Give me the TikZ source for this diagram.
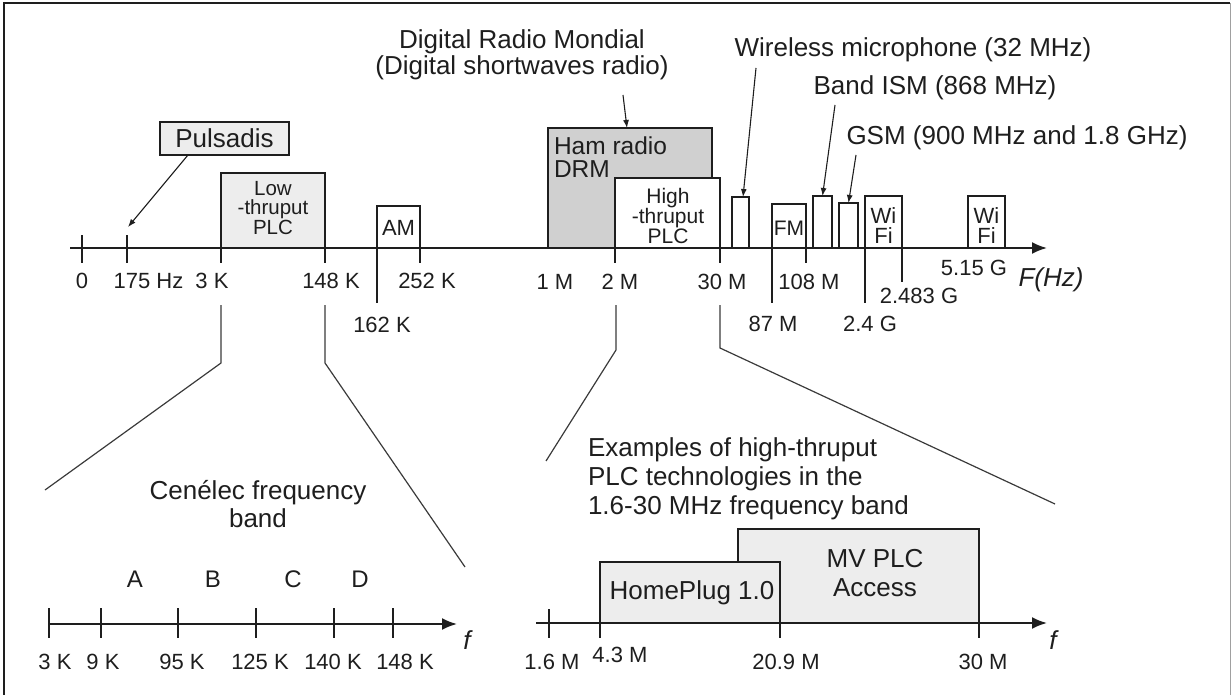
\documentclass[tikz,border=0pt]{standalone}
\usepackage{fontspec}
\setmainfont{Liberation Sans}
\usetikzlibrary{arrows.meta}
\definecolor{lightfill}{HTML}{EDEDED}
\definecolor{darkfill}{HTML}{D0D0D0}
\definecolor{ink}{HTML}{1E1E1E}
\definecolor{zoomcol}{HTML}{3A3A3A}
\definecolor{framegray}{HTML}{A0A0A0}
\newcommand\fxbig{\fontsize{26}{26}\selectfont}
\newcommand\fxlab{\fontsize{22}{22}\selectfont}
\begin{document}
\begin{tikzpicture}[x=1pt,y=-1pt,
  every node/.style={text=ink, inner sep=0pt, outer sep=0pt},
  bandbox/.style={draw=ink, line width=1.3pt, anchor=south west, inner sep=0pt, outer sep=0pt},
  ext/.style={draw=ink, line width=1.3pt},
  tickmark/.style={draw=ink, line width=1.3pt},
  axisline/.style={draw=ink, line width=2pt, -{Latex[length=15pt,width=12pt]}},
  pointer/.style={draw=ink, line width=1.1pt, -{Latex[length=8pt,width=6pt]}},
  zoomline/.style={draw=zoomcol, line width=1.2pt},
  lab/.style={font=\fxlab},
  big/.style={font=\fxbig},
]
\useasboundingbox (0,0) rectangle (1231,695);
% frame
\draw[ink, line width=2pt] (4,695) -- (4,3) -- (1230,3);
\draw[framegray, line width=1pt] (1230,3) -- (1230,695);

% ---------- main band boxes ----------
\node[bandbox, fill=lightfill, minimum width=104pt, minimum height=75pt] (lowplc) at (221,248) {};
\node[bandbox, minimum width=43pt, minimum height=42pt] (am) at (377,248) {};
\node[bandbox, fill=darkfill, minimum width=164pt, minimum height=120pt] (ham) at (548,248) {};
\node[bandbox, fill=white, minimum width=105pt, minimum height=70pt] (highplc) at (615,248) {};
\node[bandbox, minimum width=17pt, minimum height=51pt] (wm) at (732,248) {};
\node[bandbox, minimum width=34pt, minimum height=44pt] (fm) at (772,248) {};
\node[bandbox, minimum width=19pt, minimum height=52pt] (ism) at (813,248) {};
\node[bandbox, minimum width=19pt, minimum height=45pt] (gsm) at (839,248) {};
\node[bandbox, minimum width=37pt, minimum height=52pt] (wifia) at (865,248) {};
\node[bandbox, minimum width=37pt, minimum height=52pt] (wifib) at (968,248) {};

% box texts
\node[font=\fontsize{20.5}{19.5}\selectfont, align=center] (lowtxt) at (273,208) {Low\\-thruput\\PLC};
\node[lab] (amtxt) at (398.5,228) {AM};
\node[font=\fontsize{24.5}{23}\selectfont, align=left, anchor=west] (hamtxt) at (554,157) {Ham radio\\DRM};
\node[font=\fontsize{21}{20}\selectfont, align=center] (hightxt) at (668,216) {High\\-thruput\\PLC};
\node[font=\fontsize{21}{21}\selectfont] (fmtxt) at (789,228) {FM};
\node[font=\fontsize{22}{20}\selectfont, align=center] (wifiatxt) at (883.5,226) {Wi\\Fi};
\node[font=\fontsize{22}{20}\selectfont, align=center] (wifibtxt) at (986.5,226) {Wi\\Fi};

% main axis
\coordinate (axstart) at (70,248);
\coordinate (axend) at (1047,248);
\draw[axisline] (axstart) -- (axend);

% ticks and extensions
\coordinate (t0) at (82,235);
\coordinate (t175) at (127,235);
\draw[tickmark] (t0) -- ++(0,28);
\draw[tickmark] (t175) -- ++(0,28);
\draw[ext] (lowplc.south west) -- ++(0,15);
\draw[ext] (lowplc.south east) -- ++(0,15);
\draw[ext] (am.south west) -- ++(0,55);
\draw[ext] (am.south east) -- ++(0,15);
\draw[ext] (highplc.south west) -- ++(0,15);
\draw[ext] (highplc.south east) -- ++(0,15);
\draw[ext] (fm.south west) -- ++(0,55);
\draw[ext] (fm.south east) -- ++(0,15);
\draw[ext] (wifia.south west) -- ++(0,55);
\draw[ext] (wifia.south east) -- ++(0,34);

% main axis labels
\node[lab] (l0) at (82,281) {0};
\node[lab] (l175) at (148.5,281) {175 Hz};
\node[lab] (l3k) at (212,281) {3 K};
\node[lab] (l148k) at (331,281) {148 K};
\node[lab] (l252k) at (427,281) {252 K};
\node[lab] (l162k) at (382,325) {162 K};
\node[lab] (l1m) at (555,282) {1 M};
\node[lab] (l2m) at (620,282) {2 M};
\node[lab] (l30m) at (722,282) {30 M};
\node[lab] (l108m) at (809,282) {108 M};
\node[lab] (l87m) at (773,324) {87 M};
\node[lab] (l24g) at (870,324) {2.4 G};
\node[lab] (l2483g) at (919,296) {2.483 G};
\node[lab] (l515g) at (974,268) {5.15 G};
\node[font=\fxbig\itshape] (fhz) at (1051,280) {F(Hz)};

% annotations
\node[draw=ink, fill=lightfill, line width=1.3pt, minimum width=129pt, minimum height=33pt, font=\fxbig] (puls) at (224.5,138.5) {Pulsadis};
\coordinate (pulsfrom) at (188,155);
\coordinate (pulsto) at (128,227);
\draw[pointer] (pulsfrom) -- (pulsto);

\node[font=\fontsize{26}{26}\selectfont, align=center] (drm) at (522,55) {Digital Radio Mondial\\(Digital shortwaves radio)};
\coordinate (drmfrom) at (623,95);
\draw[pointer] (drmfrom) -- ([xshift=-3pt]ham.north);

\node[big] (wmtxt) at (913,50) {Wireless microphone (32 MHz)};
\coordinate (wmfrom) at (756,68);
\draw[pointer] (wmfrom) -- ([xshift=2.5pt]wm.north);

\node[big] (ismtxt) at (935,88) {Band ISM (868 MHz)};
\coordinate (ismfrom) at (835,105);
\draw[pointer] (ismfrom) -- (ism.north);

\node[big] (gsmtxt) at (1017,138) {GSM (900 MHz and 1.8 GHz)};
\coordinate (gsmfrom) at (856,155);
\draw[pointer] (gsmfrom) -- (gsm.north);

% ---------- zoom lines ----------
\coordinate (zl1) at (221,305); \coordinate (zl2) at (221,363); \coordinate (zl3) at (45,490);
\coordinate (zr1) at (325,305); \coordinate (zr2) at (325,363); \coordinate (zr3) at (465,567);
\draw[zoomline] (zl1) -- (zl2) -- (zl3);
\draw[zoomline] (zr1) -- (zr2) -- (zr3);
\coordinate (hl1) at (616,305); \coordinate (hl2) at (616,350); \coordinate (hl3) at (546,461);
\coordinate (hr1) at (720,305); \coordinate (hr2) at (720,348); \coordinate (hr3) at (1055,504);
\draw[zoomline] (hl1) -- (hl2) -- (hl3);
\draw[zoomline] (hr1) -- (hr2) -- (hr3);

% ---------- Cenelec axis ----------
\node[font=\fontsize{26}{28}\selectfont, align=center] (cenelec) at (258,504) {Cenélec frequency\\band};
\coordinate (caxstart) at (49,624);
\coordinate (caxend) at (457,624);
\draw[axisline] (caxstart) -- (caxend);
\foreach \x in {49,101,178,256,334,393}{
  \draw[tickmark] (\x,608) -- (\x,638);
}
\node[lab] (c1) at (55,662) {3 K};
\node[lab] (c2) at (103,662) {9 K};
\node[lab] (c3) at (182,662) {95 K};
\node[lab] (c4) at (260,662) {125 K};
\node[lab] (c5) at (333,662) {140 K};
\node[lab] (c6) at (405,662) {148 K};
\node[font=\fontsize{24}{24}\selectfont] (ba) at (135,579) {A};
\node[font=\fontsize{24}{24}\selectfont] (bb) at (213,579) {B};
\node[font=\fontsize{24}{24}\selectfont] (bc) at (293,579) {C};
\node[font=\fontsize{24}{24}\selectfont] (bd) at (360,579) {D};
\node[font=\fxbig\itshape] (cf) at (467,640) {f};

% ---------- high-thruput axis ----------
\node[font=\fontsize{26}{29}\selectfont, align=left, anchor=west] (examples) at (588,479) {Examples of high-thruput\\PLC technologies in the\\1.6-30 MHz frequency band};
\node[bandbox, fill=lightfill, minimum width=241pt, minimum height=94pt] (mv) at (738,623) {};
\node[bandbox, fill=lightfill, minimum width=180pt, minimum height=61pt] (hp) at (600,623) {};
\coordinate (haxstart) at (536,623);
\coordinate (haxend) at (1047,623);
\draw[axisline] (haxstart) -- (haxend);
\draw[tickmark] (549,609) -- (549,638);
\draw[ext] (hp.south west) -- ++(0,15);
\draw[ext] (hp.south east) -- ++(0,15);
\draw[ext] (mv.south east) -- ++(0,15);
\node[big] (hptxt) at (692,593) {HomePlug 1.0};
\node[font=\fontsize{26}{29}\selectfont, align=center] (mvtxt) at (875,573) {MV PLC\\Access};
\node[lab] (h1) at (552,662) {1.6 M};
\node[lab] (h2) at (620,655) {4.3 M};
\node[lab] (h3) at (786,662) {20.9 M};
\node[lab] (h4) at (983,662) {30 M};
\node[font=\fxbig\itshape] (hf) at (1053,640) {f};
\end{tikzpicture}
\end{document}
